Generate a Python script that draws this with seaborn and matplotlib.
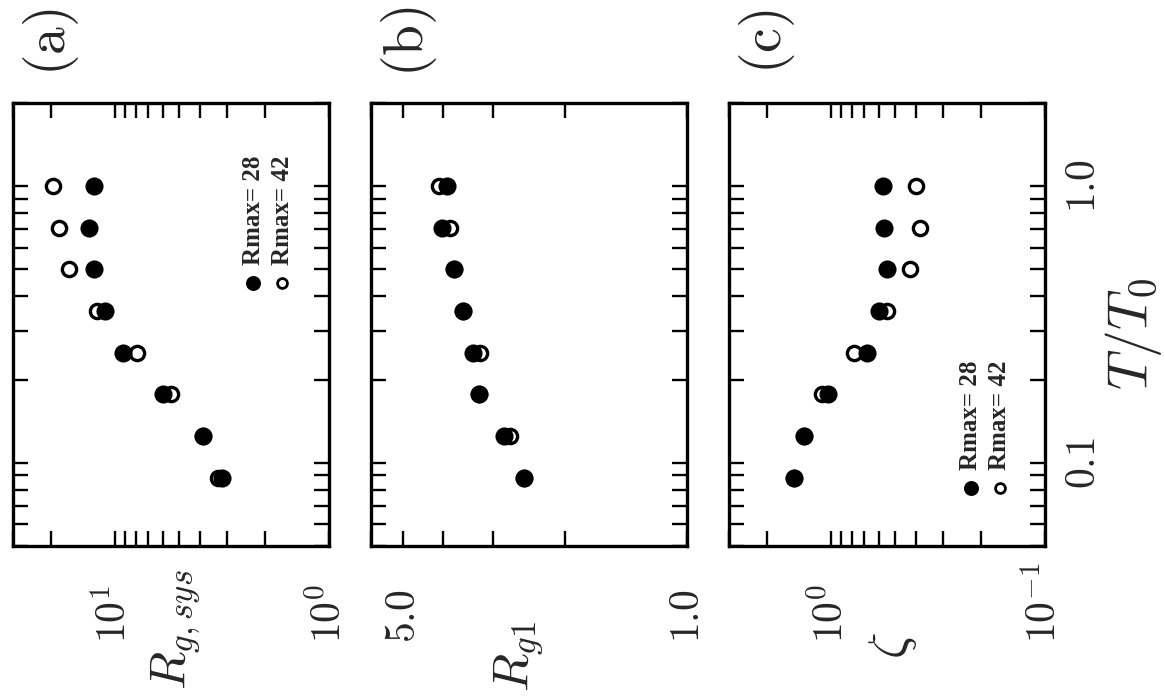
import matplotlib
matplotlib.use('Agg')
import matplotlib.pyplot as plt
import matplotlib.ticker as mticker
import seaborn as sns

# temperature steps T/T0 (shared by all three panels)
t_ratio = [1.0, 0.707, 0.5, 0.354, 0.25, 0.177, 0.125, 0.088]

# (a) R_g,sys
rgsys_28 = [12.6, 13.3, 12.6, 11.1, 9.2, 6.0, 3.87, 3.15]
rgsys_42 = [19.5, 18.3, 16.5, 12.2, 7.9, 5.45, 3.87, 3.3]

# (b) R_g1
rg1_28 = [3.90, 4.01, 3.74, 3.57, 3.36, 3.25, 2.83, 2.52]
rg1_42 = [4.08, 3.83, 3.74, 3.57, 3.23, 3.25, 2.73, 2.52]

# (c) zeta
zeta_28 = [0.571, 0.565, 0.547, 0.60, 0.679, 1.03, 1.34, 1.49]
zeta_42 = [0.40, 0.384, 0.427, 0.55, 0.781, 1.10, 1.34, 1.49]

legend_labels = ['Rmax= 28', 'Rmax= 42']
panel_tags = ['(a)', '(b)', '(c)']

sns.set_style('ticks')
plt.rcParams['mathtext.fontset'] = 'cm'
plt.rcParams['font.family'] = ['DejaVu Serif']

W, H = 1165, 697
fig = plt.figure(figsize=(W / 100, H / 100), dpi=100)

box_top, box_bot = 103, 546
lefts = [13, 371, 729]
box_w = 316

axes = []
for lx in lefts:
    ax = fig.add_axes([lx / W, (H - box_bot) / H, box_w / W, (box_bot - box_top) / H])
    axes.append(ax)


def draw_pair(ax, v28, v42):
    sns.scatterplot(x=v42, y=t_ratio, ax=ax, marker='o', s=105, color='white',
                    edgecolor='black', linewidth=2.4, zorder=3, legend=False)
    sns.scatterplot(x=v28, y=t_ratio, ax=ax, marker='o', s=170, color='black',
                    edgecolor='black', linewidth=0, zorder=4, legend=False)


def style_axes(ax, xlim, xmajor, xlabels, right_labels):
    ax.set_xscale('log')
    ax.set_yscale('log')
    ax.set_xlim(*xlim)
    ax.set_ylim(0.05, 2.0)
    ax.xaxis.set_major_locator(mticker.FixedLocator(xmajor))
    ax.xaxis.set_major_formatter(mticker.FixedFormatter(xlabels))
    ax.xaxis.set_minor_locator(mticker.LogLocator(base=10, subs=range(2, 10), numticks=20))
    ax.xaxis.set_minor_formatter(mticker.NullFormatter())
    ax.yaxis.set_major_locator(mticker.FixedLocator([0.1, 1.0]))
    ax.yaxis.set_major_formatter(mticker.FixedFormatter([r'$0.1$', r'$1.0$']))
    ax.yaxis.set_minor_locator(mticker.LogLocator(base=10, subs=range(2, 10), numticks=20))
    ax.yaxis.set_minor_formatter(mticker.NullFormatter())
    ax.tick_params(which='both', direction='in', length=11, width=1.7,
                   top=True, bottom=True, left=True, right=True, color='black')
    ax.tick_params(axis='x', which='major', pad=70, labelsize=30, labelrotation=90)
    ax.tick_params(axis='y', which='major', pad=12, labelsize=30, labelrotation=90,
                   labelleft=False, labelright=right_labels)
    for lab in ax.get_xticklabels():
        lab.set_va('bottom')
        lab.set_ha('center')
    for lab in ax.get_yticklabels():
        lab.set_va('center')
        lab.set_ha('left')
    for sp in ax.spines.values():
        sp.set_linewidth(2.4)
        sp.set_color('black')
    ax.set_ylabel('')


def draw_key(ax, xs, y):
    ax.scatter([xs[0]], [y], transform=ax.transAxes, s=95, color='black', zorder=5)
    ax.scatter([xs[1]], [y], transform=ax.transAxes, s=50, color='white',
               edgecolor='black', linewidth=2.0, zorder=5)
    for xx, txt in zip(xs, legend_labels):
        ax.text(xx, y + 0.04, txt, transform=ax.transAxes, rotation=90,
                ha='center', va='bottom', fontsize=18, fontweight='bold',
                family='Liberation Serif')


ax_a, ax_b, ax_c = axes

draw_pair(ax_a, rgsys_28, rgsys_42)
style_axes(ax_a, (30, 1), [1, 10], [r'$10^{0}$', r'$10^{1}$'], False)
draw_key(ax_a, [0.76, 0.852], 0.594)
ax_a.set_xlabel(r'$R_{g,sys}$', fontsize=36, rotation=90, ha='center', va='center')
ax_a.xaxis.set_label_coords(0.513, -0.19)

draw_pair(ax_b, rg1_28, rg1_42)
style_axes(ax_b, (6, 1), [1, 5], [r'$1.0$', r'$5.0$'], False)
ax_b.set_xlabel(r'$R_{g1}$', fontsize=36, rotation=90, ha='center', va='center')
ax_b.xaxis.set_label_coords(0.465, -0.25)

draw_pair(ax_c, zeta_28, zeta_42)
style_axes(ax_c, (3, 0.1), [0.1, 1], [r'$10^{-1}$', r'$10^{0}$'], True)
draw_key(ax_c, [0.765, 0.857], 0.131)
ax_c.set_xlabel(r'$\zeta$', fontsize=38, rotation=90, ha='center', va='center')
ax_c.xaxis.set_label_coords(0.52, -0.225)
ax_c.yaxis.set_label_position('right')
ax_c.set_ylabel(r'$T/T_0$', fontsize=40, rotation=90, ha='center', va='center')
ax_c.yaxis.set_label_coords(1.28, 0.48)

for lx, tag in zip(lefts, panel_tags):
    fig.text((lx + 38) / W, 1 - 42 / H, r'$\mathrm{' + tag + '}$', rotation=90,
             ha='center', va='center', fontsize=40)

fig.savefig('out.png', dpi=100, facecolor='white')
